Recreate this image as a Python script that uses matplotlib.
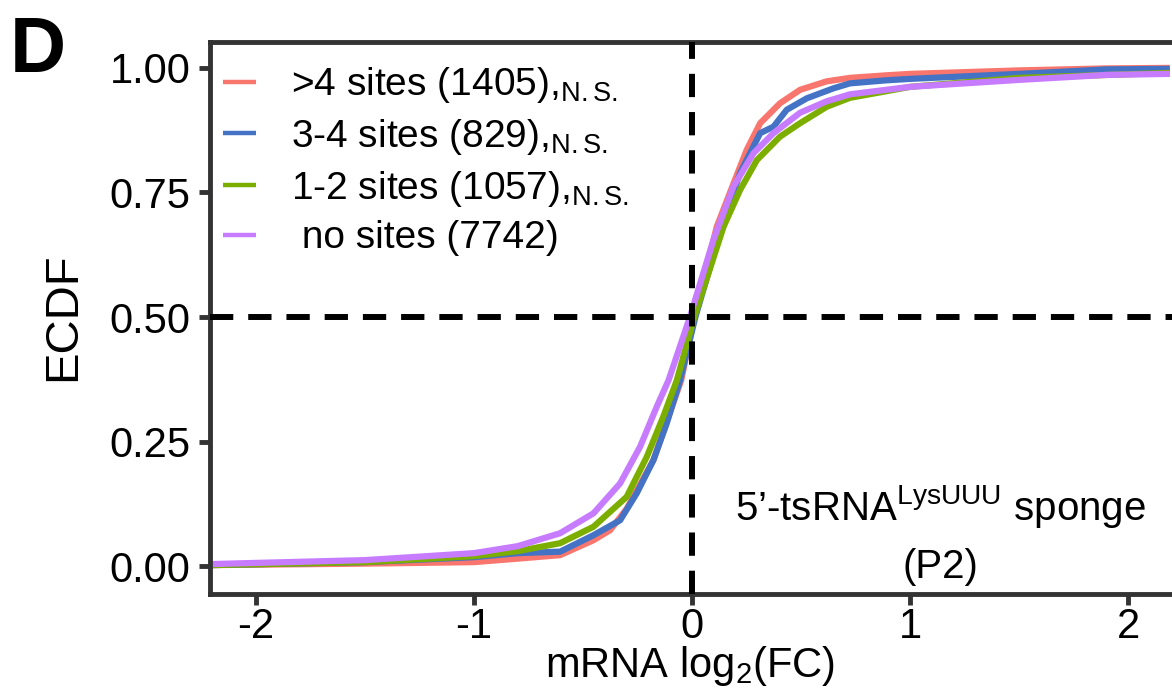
import matplotlib
matplotlib.use("Agg")
import matplotlib.pyplot as plt

plt.rcParams['font.family'] = ['Liberation Sans', 'DejaVu Sans']
plt.rcParams['mathtext.fontset'] = 'custom'
plt.rcParams['mathtext.rm'] = 'Liberation Sans'
plt.rcParams['mathtext.it'] = 'Liberation Sans:italic'
plt.rcParams['mathtext.bf'] = 'Liberation Sans:bold'

# ECDF curves (log2 FC, cumulative fraction)
red_x = [-2.21, -1.5, -1.0, -0.8, -0.605, -0.452, -0.376, -0.30, -0.177, -0.116, -0.05, 0.01, 0.113,
         0.19, 0.25, 0.312, 0.403, 0.495, 0.617, 0.724, 0.887, 1.0, 1.5, 1.9, 2.19]
red_y = [0.002, 0.005, 0.008, 0.015, 0.022, 0.052, 0.072, 0.115, 0.213, 0.29, 0.373, 0.5, 0.681,
         0.768, 0.835, 0.889, 0.929, 0.956, 0.973, 0.98, 0.985, 0.988, 0.995, 0.999, 1.0]

blue_x = [-2.21, -1.5, -1.0, -0.8, -0.605, -0.452, -0.33, -0.254, -0.177, -0.116, -0.055, 0.015, 0.128,
          0.22, 0.312, 0.373, 0.434, 0.526, 0.648, 0.724, 0.887, 1.0, 1.5, 1.9, 2.19]
blue_y = [0.002, 0.008, 0.018, 0.026, 0.029, 0.062, 0.092, 0.146, 0.213, 0.287, 0.373, 0.5, 0.669,
          0.789, 0.869, 0.882, 0.916, 0.939, 0.959, 0.969, 0.975, 0.978, 0.988, 0.997, 0.998]

green_x = [-2.21, -1.5, -1.0, -0.8, -0.605, -0.452, -0.30, -0.208, -0.132, -0.07, 0.01, 0.144,
           0.22, 0.297, 0.403, 0.495, 0.617, 0.724, 1.0, 1.5, 2.19]
green_y = [0.002, 0.008, 0.02, 0.03, 0.046, 0.079, 0.139, 0.219, 0.30, 0.373, 0.5, 0.681,
           0.755, 0.815, 0.862, 0.889, 0.922, 0.94, 0.962, 0.98, 0.99]

purple_x = [-2.21, -1.5, -1.0, -0.8, -0.605, -0.452, -0.33, -0.238, -0.162, -0.108, -0.01, 0.098,
            0.19, 0.282, 0.373, 0.495, 0.617, 0.724, 1.0, 1.5, 1.9, 2.19]
purple_y = [0.004, 0.012, 0.026, 0.04, 0.066, 0.106, 0.166, 0.24, 0.32, 0.373, 0.5, 0.655,
            0.762, 0.829, 0.869, 0.91, 0.933, 0.947, 0.962, 0.976, 0.986, 0.988]

labels = [r'>4 sites (1405),$_{\mathrm{N.S.}}$',
          r'3-4 sites (829),$_{\mathrm{N.S.}}$',
          r'1-2 sites (1057),$_{\mathrm{N.S.}}$',
          ' no sites (7742)']
colors = ['#F8766D', '#4473C5', '#7CAE00', '#C77CFF']

yticks = [0.00, 0.25, 0.50, 0.75, 1.00]
ytick_labels = ['0.00', '0.25', '0.50', '0.75', '1.00']
xticks = [-2, -1, 0, 1, 2]
xtick_labels = ['-2', '-1', '0', '1', '2']

W, H = 1172, 689
fig = plt.figure(figsize=(W / 100, H / 100), dpi=100)
ax = fig.add_axes([210 / W, 1 - 594 / H, 962 / W, 552 / H])

# draw order: red, blue, green, purple
lines = {}
lines[0], = ax.plot(red_x, red_y, color=colors[0], lw=4.5, solid_capstyle='butt')
lines[1], = ax.plot(blue_x, blue_y, color=colors[1], lw=4.5, solid_capstyle='butt')
lines[2], = ax.plot(green_x, green_y, color=colors[2], lw=4.5, solid_capstyle='butt')
lines[3], = ax.plot(purple_x, purple_y, color=colors[3], lw=4.5, solid_capstyle='butt')

dash = (0, (3.9, 2.5))
ax.axvline(0, color='black', lw=4.3, linestyle=dash, zorder=5)
ax.axhline(0.5, color='black', lw=4.3, linestyle=dash, zorder=5)

ax.set_xlim(-2.21, 2.20)
ax.set_ylim(-0.056, 1.052)
ax.set_xticks(xticks)
ax.set_xticklabels(xtick_labels)
ax.set_yticks(yticks)
ax.set_yticklabels(ytick_labels)
ax.tick_params(axis='both', direction='out', length=8, width=3.5, color='#333333',
               labelsize=30, labelcolor='black')
ax.tick_params(axis='x', pad=1)
ax.tick_params(axis='y', pad=6)
for side in ['left', 'bottom', 'top']:
    ax.spines[side].set_color('#333333')
    ax.spines[side].set_linewidth(3.5)
ax.spines['right'].set_visible(False)

leg = ax.legend([lines[i] for i in range(4)], labels, loc='upper left',
                bbox_to_anchor=(0.0135, 0.958), frameon=False, fontsize=28,
                handlelength=0.85, handletextpad=0.9, labelspacing=0.3,
                borderpad=0, borderaxespad=0)
for h in leg.get_lines():
    h.set_linewidth(3.2)

ax.text(1.14, 0.092, r'5’-tsRNA$^{\mathrm{LysUUU}}$ sponge', ha='center', va='baseline', fontsize=29)
ax.text(1.14, -0.024, '(P2)', ha='center', va='baseline', fontsize=29)

fig.text(63 / W, 1 - 317 / H, 'ECDF', rotation=90, ha='center', va='center', fontsize=34)
fig.text(690 / W, 1 - 677 / H, r'mRNA log$_{2}$(FC)', ha='center', va='baseline', fontsize=30)
fig.text(10 / W, 1 - 72 / H, 'D', ha='left', va='baseline', fontsize=56, fontweight='bold')

fig.savefig('out.png', dpi=100)
